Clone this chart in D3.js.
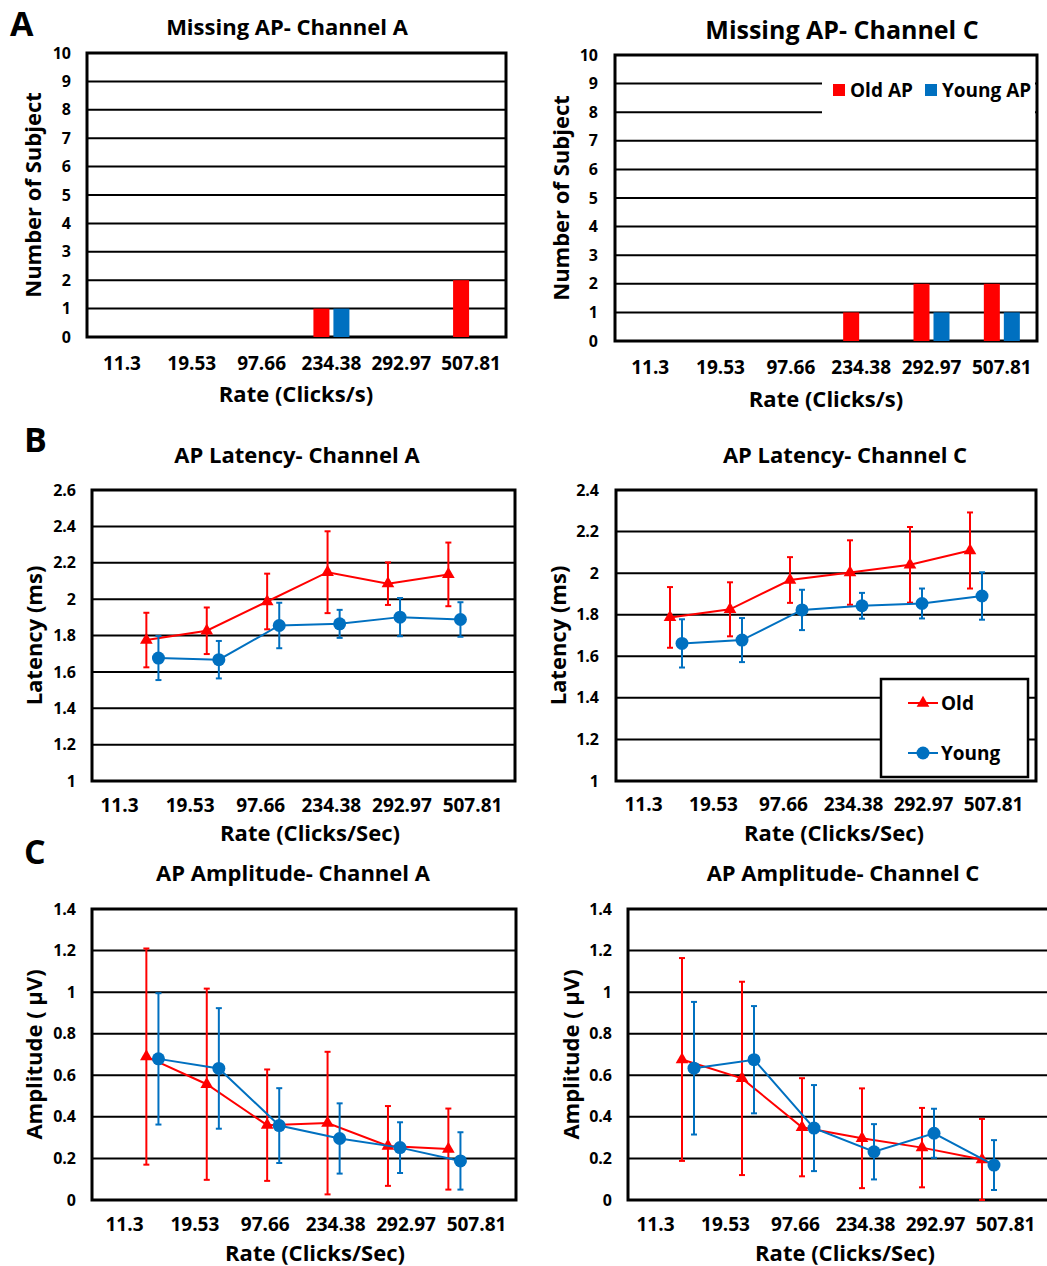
<!DOCTYPE html>
<html>
<head>
<meta charset="utf-8">
<script src="https://cdn.jsdelivr.net/npm/d3@7"></script>
<style>
body { margin: 0; background: #fff; }
text { font-family: "Open Sans", sans-serif; font-weight: bold; fill: #000; }
</style>
</head>
<body>
<div id="vis"></div>
<script>
// data
const rates = ["11.3", "19.53", "97.66", "234.38", "292.97", "507.81"];

// A: missing AP (number of subjects)
const missingOldA = [0, 0, 0, 1, 0, 2];
const missingYoungA = [0, 0, 0, 1, 0, 0];
const missingOldC = [0, 0, 0, 1, 2, 2];
const missingYoungC = [0, 0, 0, 0, 1, 1];
const countTicks = [0, 1, 2, 3, 4, 5, 6, 7, 8, 9, 10];

// B: latency (ms), mean and SD
const latOldA = [1.775, 1.826, 1.987, 2.148, 2.085, 2.136];
const latOldASd = [0.15, 0.128, 0.153, 0.225, 0.117, 0.175];
const latYoungA = [1.676, 1.667, 1.855, 1.864, 1.901, 1.888];
const latYoungASd = [0.121, 0.103, 0.125, 0.077, 0.105, 0.095];
const latOldC = [1.787, 1.826, 1.967, 2.003, 2.04, 2.109];
const latOldCSd = [0.146, 0.13, 0.11, 0.155, 0.182, 0.183];
const latYoungC = [1.662, 1.678, 1.823, 1.843, 1.854, 1.89];
const latYoungCSd = [0.116, 0.106, 0.097, 0.062, 0.072, 0.114];
const latTicksA = [1, 1.2, 1.4, 1.6, 1.8, 2, 2.2, 2.4, 2.6];
const latTicksC = [1, 1.2, 1.4, 1.6, 1.8, 2, 2.2, 2.4];

// C: amplitude (µV), mean and SD
const ampOldA = [0.69, 0.557, 0.36, 0.37, 0.26, 0.245];
const ampOldASd = [0.52, 0.46, 0.268, 0.343, 0.192, 0.195];
const ampYoungA = [0.679, 0.633, 0.358, 0.296, 0.252, 0.188];
const ampYoungASd = [0.316, 0.29, 0.18, 0.169, 0.122, 0.138];
const ampOldC = [0.676, 0.585, 0.35, 0.297, 0.252, 0.195];
const ampOldCSd = [0.488, 0.465, 0.236, 0.24, 0.191, 0.195];
const ampYoungC = [0.634, 0.675, 0.346, 0.232, 0.321, 0.168];
const ampYoungCSd = [0.319, 0.258, 0.207, 0.133, 0.118, 0.12];
const ampTicks = [0, 0.2, 0.4, 0.6, 0.8, 1, 1.2, 1.4];

const RED = "#ff0000";
const BLUE = "#0070c0";

const svg = d3.select("#vis")
    .append("svg")
    .attr("width", 1047)
    .attr("height", 1266);

const fmt = d => String(+d.toFixed(1));

// grid, frame and y labels shared by all panels
function drawFrame(p, y, ticks) {
    const g = svg.append("g");

    g.selectAll("line.grid")
        .data(ticks)
        .enter()
        .append("line")
        .attr("class", "grid")
        .attr("x1", p.x0)
        .attr("x2", p.x1)
        .attr("y1", d => y(d))
        .attr("y2", d => y(d))
        .attr("stroke", "#000")
        .attr("stroke-width", 2);

    g.append("rect")
        .attr("x", p.x0)
        .attr("y", p.y0)
        .attr("width", p.x1 - p.x0)
        .attr("height", p.y1 - p.y0)
        .attr("fill", "none")
        .attr("stroke", "#000")
        .attr("stroke-width", 3);

    const yAxis = svg.append("g")
        .attr("transform", `translate(${p.yLabelX},0)`)
        .call(d3.axisLeft(y).tickValues(ticks).tickSize(0).tickPadding(0).tickFormat(fmt));
    yAxis.select(".domain").remove();
    yAxis.selectAll("text")
        .style("font-size", "16px")
        .style("font-family", "'Open Sans', sans-serif")
        .style("font-weight", "bold")
        .attr("fill", "#000");

    svg.append("text")
        .attr("transform", `translate(${p.yTitleX},${(p.y0 + p.y1) / 2}) rotate(-90)`)
        .attr("text-anchor", "middle")
        .attr("dominant-baseline", "central")
        .style("font-size", "22px")
        .text(p.yTitle);

    svg.append("text")
        .attr("x", p.titleX)
        .attr("y", p.titleY)
        .attr("text-anchor", "middle")
        .style("font-size", (p.titleSize || 22) + "px")
        .text(p.title);

    svg.append("text")
        .attr("x", p.xTitleX)
        .attr("y", p.xTitleY)
        .attr("text-anchor", "middle")
        .style("font-size", "22px")
        .text(p.xTitle);
}

function xLabels(p, scale) {
    const xAxis = svg.append("g")
        .attr("transform", `translate(0,${p.xLabelY})`)
        .call(d3.axisBottom(scale).tickSize(0).tickPadding(0));
    xAxis.select(".domain").remove();
    xAxis.selectAll("text")
        .attr("dy", null)
        .attr("y", 0)
        .style("font-size", "19px")
        .style("font-family", "'Open Sans', sans-serif")
        .style("font-weight", "bold")
        .attr("fill", "#000");
}

function barPanel(p, old, young) {
    const y = d3.scaleLinear().domain([0, 10]).range([p.y1, p.y0]);
    const x = d3.scaleBand().domain(rates).range([p.x0, p.x1]);
    const bw = x.bandwidth();
    const xs = d3.scaleBand().domain(["old", "young"])
        .range([bw / 2 - 18, bw / 2 + 18]).paddingInner(0.2);

    drawFrame(p, y, countTicks);

    if (p.legend) {
        const L = p.legend;
        svg.append("rect")
            .attr("x", L.x0).attr("y", L.y0)
            .attr("width", L.x1 - L.x0).attr("height", L.y1 - L.y0)
            .attr("fill", "#fff");
        const items = [["Old AP", RED, 833], ["Young AP", BLUE, 925]];
        items.forEach(([t, c, lx]) => {
            svg.append("rect").attr("x", lx).attr("y", L.cy - 6)
                .attr("width", 12).attr("height", 12).attr("fill", c);
            svg.append("text").attr("x", lx + 17).attr("y", L.cy + 7)
                .style("font-size", "19px").text(t);
        });
    }

    const series = [["old", old, RED], ["young", young, BLUE]];
    series.forEach(([k, vals, c]) => {
        svg.append("g").selectAll("rect")
            .data(vals.map((v, i) => ({ r: rates[i], v: v })).filter(d => d.v > 0))
            .enter()
            .append("rect")
            .attr("x", d => x(d.r) + xs(k))
            .attr("width", xs.bandwidth())
            .attr("y", d => y(d.v))
            .attr("height", d => y(0) - y(d.v))
            .attr("fill", c);
    });

    xLabels(p, x);
}

function linePanel(p, ticks, old, oldSd, young, youngSd) {
    const y = d3.scaleLinear().domain([ticks[0], ticks[ticks.length - 1]]).range([p.y1, p.y0]);
    const x = d3.scaleLinear().domain([0, 7]).range([p.x0, p.x0 + 7 * p.step]);

    drawFrame(p, y, ticks);

    const series = [[old, oldSd, RED, -0.1, "tri"], [young, youngSd, BLUE, 0.1, "circle"]];
    series.forEach(([vals, sd, c, off, shape]) => {
        const pts = vals.map((v, i) => ({ x: i + 1 + off, v: v, s: sd[i] }));
        const g = svg.append("g");

        g.selectAll("line.err")
            .data(pts).enter().append("line")
            .attr("x1", d => x(d.x)).attr("x2", d => x(d.x))
            .attr("y1", d => y(d.v - d.s)).attr("y2", d => y(d.v + d.s))
            .attr("stroke", c).attr("stroke-width", 2);
        [1, -1].forEach(sign => {
            g.selectAll(null)
                .data(pts).enter().append("line")
                .attr("x1", d => x(d.x) - 3).attr("x2", d => x(d.x) + 3)
                .attr("y1", d => y(d.v + sign * d.s)).attr("y2", d => y(d.v + sign * d.s))
                .attr("stroke", c).attr("stroke-width", 2);
        });

        g.append("path")
            .datum(pts)
            .attr("d", d3.line().x(d => x(d.x)).y(d => y(d.v)))
            .attr("fill", "none")
            .attr("stroke", c)
            .attr("stroke-width", 2);

        if (shape === "tri") {
            g.selectAll("path.m").data(pts).enter().append("path")
                .attr("class", "m")
                .attr("transform", d => `translate(${x(d.x)},${y(d.v)})`)
                .attr("d", d3.symbol(d3.symbolTriangle, 70))
                .attr("fill", c);
        } else {
            g.selectAll("circle").data(pts).enter().append("circle")
                .attr("cx", d => x(d.x)).attr("cy", d => y(d.v))
                .attr("r", 6.5).attr("fill", c);
        }
    });

    if (p.legend) {
        const L = p.legend;
        svg.append("rect")
            .attr("x", L.x0).attr("y", L.y0)
            .attr("width", L.x1 - L.x0).attr("height", L.y1 - L.y0)
            .attr("fill", "#fff").attr("stroke", "#000").attr("stroke-width", 2.5);
        [["Old", RED, L.y0 + 24, "tri"], ["Young", BLUE, L.y0 + 74, "circle"]].forEach(([t, c, ly, shape]) => {
            svg.append("line").attr("x1", L.x0 + 27).attr("x2", L.x0 + 57)
                .attr("y1", ly).attr("y2", ly).attr("stroke", c).attr("stroke-width", 2);
            if (shape === "tri") {
                svg.append("path").attr("transform", `translate(${L.x0 + 42},${ly})`)
                    .attr("d", d3.symbol(d3.symbolTriangle, 70)).attr("fill", c);
            } else {
                svg.append("circle").attr("cx", L.x0 + 42).attr("cy", ly).attr("r", 6.5).attr("fill", c);
            }
            svg.append("text").attr("x", L.x0 + 60).attr("y", ly + 7)
                .style("font-size", "19px").text(t);
        });
    }

    xLabels(p, d3.scalePoint().domain(rates).range(p.labelRange));
}

// panel letters
[["A", 10, 36], ["B", 24, 452], ["C", 24, 864]].forEach(([t, lx, ly]) => {
    svg.append("text").attr("x", lx).attr("y", ly).style("font-size", "34px").text(t);
});

barPanel({
    x0: 87, x1: 506, y0: 53, y1: 337,
    yLabelX: 71, yTitleX: 32, yTitle: "Number of Subject",
    title: "Missing AP- Channel A", titleX: 287, titleY: 35,
    xLabelY: 370, xTitle: "Rate (Clicks/s)", xTitleX: 296, xTitleY: 402
}, missingOldA, missingYoungA);

barPanel({
    x0: 615, x1: 1037, y0: 55, y1: 341,
    yLabelX: 598, yTitleX: 560, yTitle: "Number of Subject",
    title: "Missing AP- Channel C", titleX: 842, titleY: 39, titleSize: 25,
    xLabelY: 374, xTitle: "Rate (Clicks/s)", xTitleX: 826, xTitleY: 407,
    legend: { x0: 822, x1: 1035, y0: 70, y1: 122, cy: 90 }
}, missingOldC, missingYoungC);

linePanel({
    x0: 92, x1: 515, y0: 490, y1: 781, step: 60.4,
    yLabelX: 76, yTitleX: 33, yTitle: "Latency (ms)",
    title: "AP Latency- Channel A", titleX: 297, titleY: 463,
    xLabelY: 812, labelRange: [119, 472],
    xTitle: "Rate (Clicks/Sec)", xTitleX: 310, xTitleY: 841
}, latTicksA, latOldA, latOldASd, latYoungA, latYoungASd);

linePanel({
    x0: 616, x1: 1036, y0: 490, y1: 781, step: 60,
    yLabelX: 599, yTitleX: 557, yTitle: "Latency (ms)",
    title: "AP Latency- Channel C", titleX: 845, titleY: 463,
    xLabelY: 811, labelRange: [643, 993],
    xTitle: "Rate (Clicks/Sec)", xTitleX: 834, xTitleY: 841,
    legend: { x0: 881, x1: 1028, y0: 679, y1: 777 }
}, latTicksC, latOldC, latOldCSd, latYoungC, latYoungCSd);

linePanel({
    x0: 92, x1: 516, y0: 909, y1: 1200, step: 60.4,
    yLabelX: 76, yTitleX: 33, yTitle: "Amplitude ( µV)",
    title: "AP Amplitude- Channel A", titleX: 293, titleY: 881,
    xLabelY: 1231, labelRange: [124, 476],
    xTitle: "Rate (Clicks/Sec)", xTitleX: 315, xTitleY: 1261
}, ampTicks, ampOldA, ampOldASd, ampYoungA, ampYoungASd);

linePanel({
    x0: 628, x1: 1049, y0: 909, y1: 1200, step: 60,
    yLabelX: 612, yTitleX: 570, yTitle: "Amplitude ( µV)",
    title: "AP Amplitude- Channel C", titleX: 843, titleY: 881,
    xLabelY: 1231, labelRange: [655, 1005],
    xTitle: "Rate (Clicks/Sec)", xTitleX: 845, xTitleY: 1261
}, ampTicks, ampOldC, ampOldCSd, ampYoungC, ampYoungCSd);
</script>
</body>
</html>
